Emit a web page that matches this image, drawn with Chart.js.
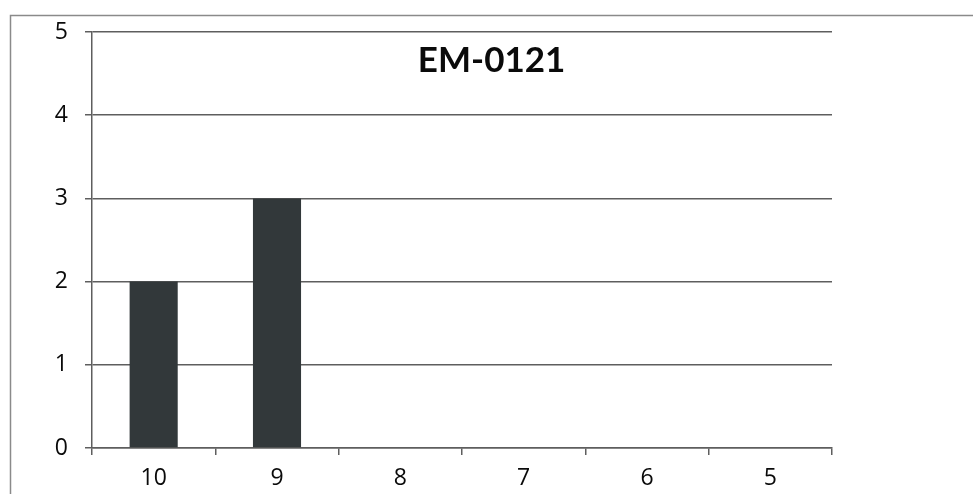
<!DOCTYPE html>
<html>
<head>
<meta charset="utf-8">
<script src="https://cdn.jsdelivr.net/npm/chart.js@4/dist/chart.umd.min.js"></script>
<style>
html,body{margin:0;padding:0;background:#fff;}
canvas{display:block;}
</style>
</head>
<body>
<canvas id="c" width="973" height="494"></canvas>
<script>
const categories = ['10','9','8','7','6','5'];
const counts = [2,3,0,0,0,0];
const chartTitle = 'EM-0121';
const yMin = 0, yMax = 5, yStep = 1;

const TITLE_FONT = 'Lato, "Open Sans", sans-serif';
const TICK_FONT = '"Open Sans", Lato, sans-serif';

const decor = {
  id: 'decor',
  beforeDraw(chart){
    const ctx = chart.ctx;
    ctx.save();
    ctx.fillStyle = '#fff';
    ctx.fillRect(0,0,chart.width,chart.height);
    ctx.strokeStyle = '#8a8a8a';
    ctx.lineWidth = 1.5;
    ctx.beginPath();
    ctx.moveTo(10.5, chart.height);
    ctx.lineTo(10.5, 15.5);
    ctx.lineTo(chart.width, 15.5);
    ctx.stroke();
    ctx.restore();
  },
  afterDraw(chart){
    const ctx = chart.ctx;
    const a = chart.chartArea;
    ctx.save();
    ctx.fillStyle = '#0a0a0a';
    ctx.font = 'bold 35px ' + TITLE_FONT;
    ctx.textAlign = 'center';
    ctx.textBaseline = 'middle';
    ctx.fillText(chartTitle, a.left + (a.right - a.left) * 0.54, a.top + 29);
    ctx.restore();
  }
};

new Chart(document.getElementById('c'), {
  type: 'bar',
  data: {
    labels: categories,
    datasets: [{
      data: counts,
      backgroundColor: '#32383a',
      borderWidth: 0,
      barPercentage: 0.39,
      categoryPercentage: 1.0
    }]
  },
  options: {
    responsive: false,
    animation: false,
    devicePixelRatio: 1,
    layout: { padding: { left: 0, right: 141, top: 32, bottom: 0 } },
    plugins: { legend: { display: false }, title: { display: false }, tooltip: { enabled: false } },
    scales: {
      x: {
        afterFit(s){ s.height = 46; },
        grid: { display: true, drawOnChartArea: false, offset: true, color: '#5e5e5e', lineWidth: 1.5, tickLength: 7 },
        border: { display: true, color: '#5e5e5e', width: 1.5 },
        ticks: { color: '#0a0a0a', font: { family: TICK_FONT, size: 23 }, padding: 10 }
      },
      y: {
        min: yMin, max: yMax,
        afterFit(s){ s.width = 92; },
        grid: { color: '#5e5e5e', lineWidth: 1.5, tickLength: 7 },
        border: { display: true, color: '#5e5e5e', width: 1.5 },
        ticks: { stepSize: yStep, color: '#0a0a0a', font: { family: TICK_FONT, size: 23 }, padding: 17 }
      }
    }
  },
  plugins: [decor]
});
</script>
</body>
</html>
